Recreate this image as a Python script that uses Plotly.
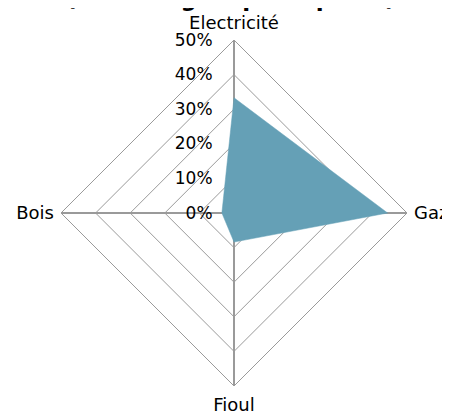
import plotly.graph_objects as go

categories = ["Electricité", "Gaz", "Fioul", "Bois"]
values = [33.3, 44.4, 8.4, 3.5]
tick_vals = [0, 10, 20, 30, 40, 50]
tick_text = ["0%", "10%", "20%", "30%", "40%", "50%"]
title_text = "(les énergies principales)"

FONT = "DejaVu Sans"

fig = go.Figure()
fig.add_trace(go.Scatterpolar(
    r=values + [values[0]],
    theta=categories + [categories[0]],
    mode="lines",
    fill="toself",
    fillcolor="#65a0b6",
    line=dict(color="#65a0b6", width=0.5),
    hoverinfo="skip",
))

fig.update_layout(
    width=450, height=414,
    margin=dict(l=53, r=51, t=32, b=36),
    paper_bgcolor="white",
    plot_bgcolor="white",
    showlegend=False,
    font=dict(family=FONT, size=18, color="black"),
    polar=dict(
        bgcolor="white",
        gridshape="linear",
        radialaxis=dict(
            range=[0, 50],
            tickvals=tick_vals,
            ticktext=tick_text,
            angle=90,
            tickangle=90,
            side="counterclockwise",
            showline=False,
            gridcolor="#9a9a9a",
            gridwidth=1,
            ticks="outside",
            ticklen=15,
            tickcolor="rgba(0,0,0,0)",
            tickfont=dict(family=FONT, size=17, color="black"),
            layer="above traces",
        ),
        angularaxis=dict(
            rotation=90,
            direction="clockwise",
            showline=True,
            linecolor="#9a9a9a",
            linewidth=1,
            gridcolor="#9a9a9a",
            gridwidth=2,
            ticks="outside",
            ticklen=3,
            tickcolor="rgba(0,0,0,0)",
            tickfont=dict(family=FONT, size=18, color="black"),
            layer="above traces",
        ),
    ),
    annotations=[dict(
        text="<b>" + title_text + "</b>",
        x=0.5, xref="paper", y=1, yref="paper",
        xanchor="center", yanchor="bottom", yshift=27, xshift=-3,
        showarrow=False,
        font=dict(family=FONT, size=23, color="black"),
    )],
)

fig.write_html("out.html")
